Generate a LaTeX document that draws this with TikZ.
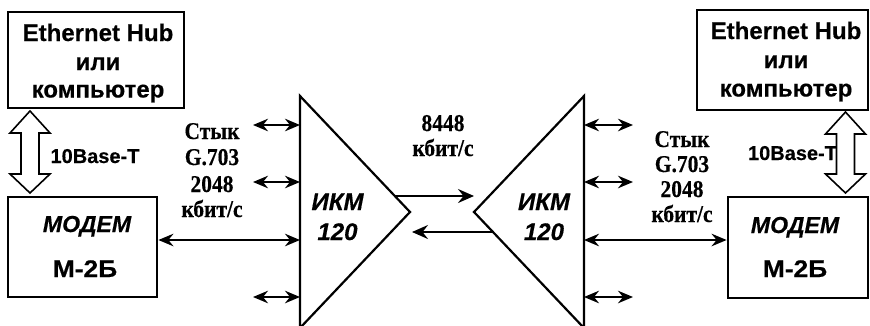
\documentclass[tikz,border=0pt]{standalone}
\usepackage{fontspec}
\setmainfont{Liberation Serif}[BoldFeatures={FakeBold=0.4}]
\setsansfont{Liberation Sans}[BoldFeatures={FakeBold=0.4},BoldItalicFeatures={FakeBold=0.4}]
\usetikzlibrary{arrows.meta}
\begin{document}
\begin{tikzpicture}[x=1pt,y=-1pt,
  boxst/.style={draw,line width=2.8pt,inner sep=0pt},
  txt/.style={anchor=base,inner sep=0pt},
  hub/.style={txt,font=\sffamily\bfseries\fontsize{24}{28}\selectfont},
  base/.style={txt,font=\sffamily\bfseries\fontsize{20}{24}\selectfont},
  modem/.style={txt,font=\sffamily\bfseries\itshape\fontsize{22}{26}\selectfont},
  mname/.style={txt,font=\sffamily\bfseries\fontsize{24}{28}\selectfont},
  ikm/.style={txt,font=\sffamily\bfseries\itshape\fontsize{24}{28}\selectfont},
  serif/.style={txt,font=\rmfamily\bfseries\fontsize{21.5}{26}\selectfont},
  tri/.style={draw,line width=2.2pt,line join=miter},
  dbl/.style={line width=2.3pt,{Stealth[length=15pt,width=12.5pt,inset=5pt]}-{Stealth[length=15pt,width=12.5pt,inset=5pt]}},
  one/.style={line width=2.3pt,-{Stealth[length=16pt,width=14pt,inset=5.5pt]}},
  hollow/.style={draw,line width=1.6pt,line join=miter,fill=white}]
\useasboundingbox (0,0) rectangle (870,325);

% boxes
\node[boxst,minimum width=176pt,minimum height=96pt] (hubL) at (96,60) {};
\node[boxst,minimum width=171pt,minimum height=100pt] (hubR) at (782.5,60) {};
\node[boxst,minimum width=149pt,minimum height=100pt] (modL) at (82.5,247) {};
\node[boxst,minimum width=140pt,minimum height=101pt] (modR) at (798,247.5) {};

% hub texts
\node[hub] (hL1) at (98,41) {Ethernet Hub};
\node[hub] (hL2) at (98,70) {или};
\node[hub] (hL3) at (98,97.5) {компьютер};
\node[hub] (hR1) at (786,39) {Ethernet Hub};
\node[hub] (hR2) at (786,68) {или};
\node[hub] (hR3) at (786,96.5) {компьютер};

% modem texts
\node[modem] (mL1) at (87,232) {\scalebox{1.05}[1.05]{МОДЕМ}};
\node[mname] (mL2) at (85,277) {\scalebox{1.1}[1]{М-2Б}};
\node[modem] (mR1) at (795,233) {\scalebox{1.05}[1.05]{МОДЕМ}};
\node[mname] (mR2) at (795,277) {\scalebox{1.1}[1]{М-2Б}};

% hollow double arrows
\coordinate (aL) at (30,111);
\coordinate (aR) at (845.5,112);
\draw[hollow] (aL) -- ++(20,22) -- ++(-11,0) -- ++(0,41) -- ++(11,0) -- ++(-20,19)
  -- ++(-20,-19) -- ++(11,0) -- ++(0,-41) -- ++(-11,0) -- cycle;
\draw[hollow] (aR) -- ++(20,22) -- ++(-11,0) -- ++(0,40) -- ++(11,0) -- ++(-20,19)
  -- ++(-20,-19) -- ++(11,0) -- ++(0,-40) -- ++(-11,0) -- cycle;
\node[base] (bL) at (95,163) {10Base-T};
\node[base] (bR) at (792.5,160) {10Base-T};

% triangles
\coordinate (tLa) at (300,96);
\coordinate (tLtip) at (410,212);
\coordinate (tLb) at (300,328);
\coordinate (tRa) at (584,96);
\coordinate (tRtip) at (474,212);
\coordinate (tRb) at (584,328);
\draw[tri] (tLb) -- (tLa) -- (tLtip) -- (tLb);
\draw[tri] (tRb) -- (tRa) -- (tRtip) -- (tRb);
\node[ikm] (iL1) at (337.5,210) {ИКМ};
\node[ikm] (iL2) at (337.5,240) {120};
\node[ikm] (iR1) at (544,210) {ИКМ};
\node[ikm] (iR2) at (544,240) {120};

% side arrows
\foreach \y/\n in {125/1,182/2,297/4}{
  \coordinate (ls\n) at (253,\y);
  \coordinate (le\n) at (300,\y);
  \draw[dbl] (ls\n) -- (le\n);
  \coordinate (rs\n) at (584,\y);
  \coordinate (re\n) at (633,\y);
  \draw[dbl] (rs\n) -- (re\n);
}
\coordinate (le3) at (300,240);
\coordinate (rs3) at (584,240);
\draw[dbl] (modL.east |- le3) -- (le3);
\draw[dbl] (rs3) -- (modR.west |- rs3);

% between triangles
\coordinate (m1a) at (394.8,196);
\coordinate (m1b) at (474,196);
\coordinate (m2a) at (493,232);
\coordinate (m2b) at (412,232);
\draw[one] (m1a) -- (m1b);
\draw[one] (m2a) -- (m2b);

% labels
\node[serif] (sL1) at (212,139) {\scalebox{1}[1.12]{Стык}};
\node[serif] (sL2) at (212,165) {\scalebox{1}[1.12]{G.703}};
\node[serif] (sL3) at (212,192) {\scalebox{1}[1.12]{2048}};
\node[serif] (sL4) at (212,217) {\scalebox{1}[1.12]{кбит/с}};
\node[serif] (sR1) at (682,147) {\scalebox{1}[1.12]{Стык}};
\node[serif] (sR2) at (682,172) {\scalebox{1}[1.12]{G.703}};
\node[serif] (sR3) at (682,197) {\scalebox{1}[1.12]{2048}};
\node[serif] (sR4) at (682,222) {\scalebox{1}[1.12]{кбит/с}};
\node[serif] (k1) at (443,131) {\scalebox{1}[1.12]{8448}};
\node[serif] (k2) at (443,156) {\scalebox{1}[1.12]{кбит/с}};
\end{tikzpicture}
\end{document}
